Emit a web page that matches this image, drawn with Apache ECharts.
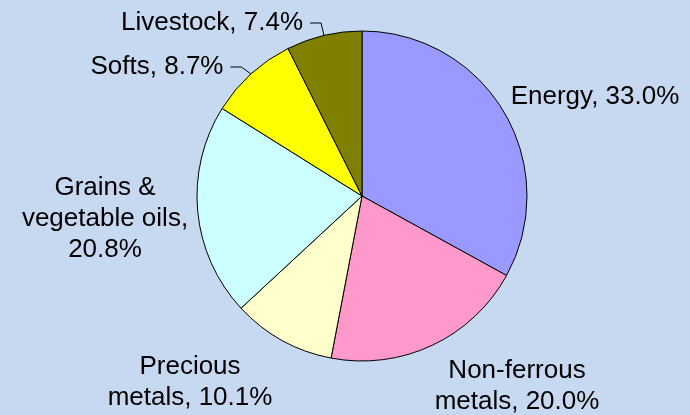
<!DOCTYPE html>
<html>
<head>
<meta charset="utf-8">
<script src="https://cdn.jsdelivr.net/npm/echarts@6/dist/echarts.min.js"></script>
<style>
html,body{margin:0;padding:0;background:#C6D9F0;}
#chart{width:690px;height:415px;}
</style>
</head>
<body>
<div id="chart"></div>
<script>
var categories = ['Energy', 'Non-ferrous metals', 'Precious metals', 'Grains & vegetable oils', 'Softs', 'Livestock'];
var values = [33.0, 20.0, 10.1, 20.8, 8.7, 7.4];
var labelNames = ['Energy', 'Non-ferrous\nmetals', 'Precious\nmetals', 'Grains &\nvegetable oils', 'Softs', 'Livestock'];
var labelSeparators = [', ', ', ', ', ', ',\n', ', ', ', '];
var colors = ['#9999FF', '#FF99CC', '#FFFFCC', '#CCFFFF', '#FFFF00', '#808000'];
var showLeader = [false, false, false, false, true, true];

// label placement (centre of text block) – styling/position only
var labelPos = [
  [595, 97], [517, 386], [190, 382], [105, 219], [157, 67], [212, 23]
];

var chart = echarts.init(document.getElementById('chart'), null, {renderer: 'canvas'});

var data = categories.map(function (c, i) {
  return {
    name: c,
    value: values[i],
    itemStyle: {color: colors[i]},
    labelLine: {show: showLeader[i]}
  };
});

chart.setOption({
  backgroundColor: '#C6D9F0',
  animation: false,
  series: [{
    type: 'pie',
    center: [362, 196],
    radius: [0, 165],
    startAngle: 90,
    clockwise: true,
    avoidLabelOverlap: false,
    data: data,
    itemStyle: {borderColor: '#000', borderWidth: 1},
    label: {
      show: true,
      position: 'outside',
      color: '#000',
      fontFamily: 'Liberation Sans, Arial, sans-serif',
      fontSize: 26,
      lineHeight: 31,
      align: 'center',
      formatter: function (p) {
        return labelNames[p.dataIndex] + labelSeparators[p.dataIndex] + p.value.toFixed(1) + '%';
      }
    },
    labelLine: {
      show: true,
      lineStyle: {color: '#000', width: 1}
    },
    labelLayout: function (p) {
      var i = p.dataIndex;
      var pos = labelPos[i];
      var res = {x: pos[0], y: pos[1], align: 'center', verticalAlign: 'middle'};
      if (showLeader[i] && p.labelLinePoints) {
        var edge = p.labelLinePoints[0];
        var right = pos[0] + p.labelRect.width / 2;
        res.labelLinePoints = [
          [right + 7, pos[1]],
          [right + 18, pos[1]],
          [edge[0], edge[1]]
        ];
      }
      return res;
    }
  }]
});
</script>
</body>
</html>
